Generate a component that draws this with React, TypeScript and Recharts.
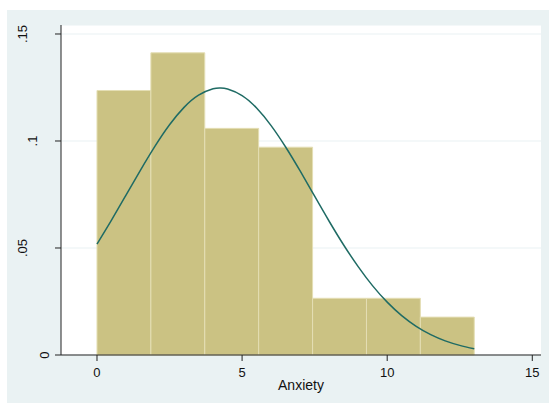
import React from 'react';
import { ComposedChart, Line, XAxis, YAxis, CartesianGrid, ReferenceArea } from 'recharts';

// Histogram bins (Anxiety), density per bin
const binEdges = [0, 1.857, 3.714, 5.571, 7.429, 9.286, 11.143, 13];
const binDensity = [0.1236, 0.1412, 0.1059, 0.0971, 0.0265, 0.0265, 0.0177];

// Normal density overlay
const curveX = [0, 0.5, 1, 1.5, 2, 2.5, 3, 3.5, 4, 4.25, 4.5, 5, 5.5, 6, 6.5, 7, 7.5, 8, 8.5, 9, 9.5, 10, 10.5, 11, 11.5, 12, 12.5, 13];
const curveY = [0.0518, 0.063, 0.0747, 0.0864, 0.0976, 0.1076, 0.1157, 0.1214, 0.1244, 0.1248, 0.1243, 0.1212, 0.1154, 0.1072, 0.0972, 0.086, 0.0742, 0.0625, 0.0514, 0.0413, 0.0323, 0.0247, 0.0184, 0.0134, 0.0095, 0.0066, 0.0045, 0.0029];

const xTicks = [0, 5, 10, 15];
const yTicks = [0, 0.05, 0.1, 0.15];
const yTickLabels = ['0', '.05', '.1', '.15'];
const xTitle = 'Anxiety';

const curveData = curveX.map((x, i) => ({ x, y: curveY[i] }));

const FONT = '"Liberation Sans", Arial, Helvetica, sans-serif';
const BG = '#EAF2F3';
const BAR = '#CBC283';
const BAR_EDGE = '#E4DEB4';
const LINE = '#1F6B64';

// horizontal distance from axis line to rotated label center (Stata quirk)
const labelOffset: Record<string, number> = { '0': 16.5, '.05': 38.5, '.1': 28, '.15': 38.5 };

const YTick = (props: any) => {
  const { y, payload } = props;
  const idx = yTicks.indexOf(payload.value);
  const label = idx >= 0 ? yTickLabels[idx] : String(payload.value);
  const axisX = 54;
  const cx = axisX - (labelOffset[label] ?? 30);
  return (
    <text
      x={cx}
      y={y}
      transform={`rotate(-90, ${cx}, ${y})`}
      textAnchor="middle"
      dominantBaseline="central"
      fontFamily={FONT}
      fontSize={13}
      fill="#111"
    >
      {label}
    </text>
  );
};

export default function App() {
  return (
    <div style={{ position: 'absolute', left: 7, top: 10, width: 542, height: 393, background: BG }}>
      <ComposedChart
        width={542}
        height={393}
        data={curveData}
        margin={{ top: 15, right: 8, bottom: 8, left: 0 }}
      >
        <CartesianGrid vertical={false} stroke={BG} strokeWidth={1.2} fill="#ffffff" />
        <XAxis
          dataKey="x"
          type="number"
          domain={[-1.24, 15.3]}
          ticks={xTicks}
          allowDataOverflow
          height={40}
          tickSize={6}
          tickMargin={7}
          stroke="#222"
          tick={{ fontFamily: FONT, fontSize: 13, fill: '#111' }}
          label={{ value: xTitle, position: 'insideBottom', offset: 5, style: { fontFamily: FONT, fontSize: 14, fill: '#111' } }}
        />
        <YAxis
          type="number"
          domain={[0, 0.1542]}
          ticks={yTicks}
          allowDataOverflow
          width={54}
          tickSize={6}
          stroke="#222"
          tick={<YTick />}
        />
        {binDensity.map((d, i) => (
          <ReferenceArea
            key={i}
            x1={binEdges[i]}
            x2={binEdges[i + 1]}
            y1={0}
            y2={d}
            fill={BAR}
            fillOpacity={1}
            stroke={BAR_EDGE}
            strokeWidth={1}
            strokeOpacity={1}
          />
        ))}
        <Line
          dataKey="y"
          type="natural"
          stroke={LINE}
          strokeWidth={1.5}
          dot={false}
          activeDot={false}
          isAnimationActive={false}
        />
      </ComposedChart>
    </div>
  );
}
